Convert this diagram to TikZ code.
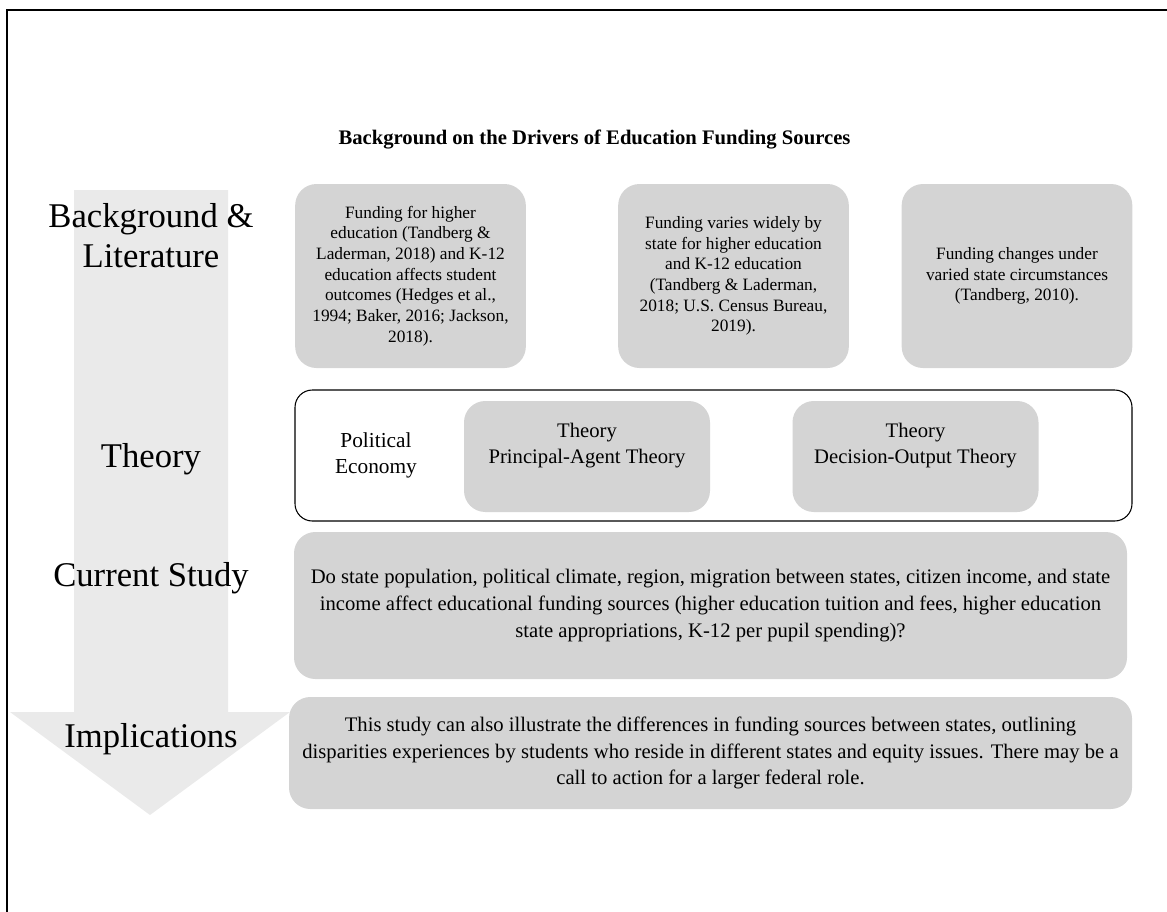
\documentclass[tikz,border=0pt]{standalone}
\usepackage{fontspec}
\setmainfont{Liberation Serif}
\usepackage{xcolor}
\usepackage{tikz}
\definecolor{boxgray}{RGB}{212,212,212}
\definecolor{arrowgray}{RGB}{234,234,234}

\begin{document}
\begin{tikzpicture}[
	x=0.75pt, y=-0.75pt,
	lbl/.style={ % big labels in the arrow
		font=\fontsize{26}{30}\selectfont,
		align=center, inner sep=0pt
	},
	litbox/.style={ % boxes of the first row
		fill=boxgray, rounded corners=16pt,
		minimum width=173pt, minimum height=138pt,
		inner sep=0pt, align=center,
		font=\fontsize{13}{15.5}\selectfont
	},
	theorybox/.style={
		fill=boxgray, rounded corners=16pt,
		minimum width=184.5pt, minimum height=83.25pt,
		inner sep=0pt, align=center,
		font=\fontsize{15.5}{19.5}\selectfont
	},
	widebox/.style={
		fill=boxgray, rounded corners=16pt,
		inner sep=0pt, align=center,
		font=\fontsize{15.5}{20}\selectfont
	}
	]
	\useasboundingbox (0,0) rectangle (1167,911);
	
	% frame
	\draw[line width=1.1pt] (7,925) -- (7,10) -- (1180,10);
	
	% ================= ARROW + LABELS =================
	\fill[arrowgray] (74,190) -- (228,190) -- (228,712) -- (290,712)
		-- (150,815) -- (10,712) -- (74,712) -- cycle;
	
	\node[lbl, anchor=base] (lbl-lit) at (151,267) {Background \&\\Literature};
	\node[lbl, anchor=base] (lbl-theory) at (151,467) {Theory};
	\node[lbl, anchor=base] (lbl-study) at (151,586) {Current Study};
	\node[lbl, anchor=base] (lbl-impl) at (151,747) {Implications};
	
	% title
	\node[font=\bfseries\fontsize{15.5}{18}\selectfont, anchor=base] (title) at (594.5,144)
		{Background on the Drivers of Education Funding Sources};
	
	% ================= ROW 1: literature =================
	\foreach \cx/\txt [count=\j] in {
		410.5/{Funding for higher\\education (Tandberg \&\\Laderman, 2018) and K-12\\education affects student\\outcomes (Hedges et al.,\\1994; Baker, 2016; Jackson,\\2018).},
		733.5/{Funding varies widely by\\state for higher education\\and K-12 education\\(Tandberg \& Laderman,\\2018; U.S. Census Bureau,\\2019).},
		1017/{Funding changes under\\varied state circumstances\\(Tandberg, 2010).}} {
		\node[litbox] (lit\j) at (\cx,276) {\txt};
	}
	
	% ================= ROW 2: theory =================
	\node[draw=black, line width=0.8pt, fill=white, rounded corners=13pt,
		minimum width=627.75pt, minimum height=98.25pt] (theoryframe) at (713.5,455.5) {};
	\node[align=center, font=\fontsize{16}{19.5}\selectfont] (polecon) at (376,455) {Political\\Economy};
	\node[theorybox] (pa) at (587,456.5) {Theory\\Principal-Agent Theory\\\mbox{}};
	\node[theorybox] (do) at (915.5,456.5) {Theory\\Decision-Output Theory\\\mbox{}};
	
	% ================= ROW 3: current study =================
	\node[widebox, minimum width=624.75pt, minimum height=110.25pt] (study) at (710.5,605.5)
		{Do state population, political climate, region, migration between states, citizen income, and state\\income affect educational funding sources (higher education tuition and fees, higher education\\state appropriations, K-12 per pupil spending)?};
	
	% ================= ROW 4: implications =================
	\node[widebox, minimum width=632.25pt, minimum height=84pt] (impl) at (710.5,753)
		{This study can also illustrate the differences in funding sources between states, outlining\\disparities experiences by students who reside in different states and equity issues. There may be a\\call to action for a larger federal role.};
	
\end{tikzpicture}
\end{document}
